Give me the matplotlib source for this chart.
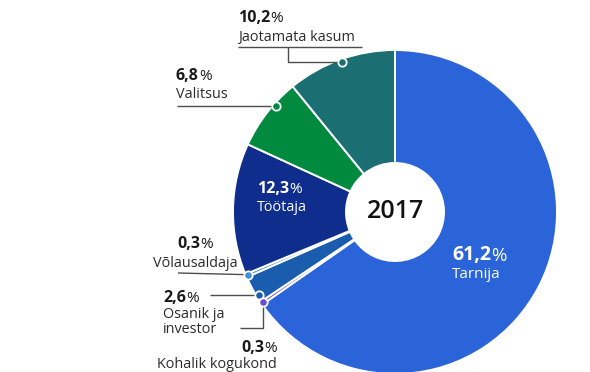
import matplotlib
matplotlib.use("Agg")
import matplotlib.pyplot as plt
import numpy as np

plt.rcParams['font.family'] = ['Open Sans', 'DejaVu Sans']

# Andmed (päripäeva alates kella 12-st)
nimed = ["Tarnija", "Kohalik kogukond", "Osanik ja\ninvestor", "Võlausaldaja",
         "Töötaja", "Valitsus", "Jaotamata kasum"]
osakaal = [61.2, 0.3, 2.6, 0.3, 12.3, 6.8, 10.2]
varvid = ["#2b63d9", "#6b48e0", "#1a5cad", "#3e8fd1", "#0f2d8c", "#008a3f", "#1b6e72"]
aasta = "2017"

W, H = 590, 372
CX, CY = 395, H - 212
R, R_AUK = 162, 49


def px(y):
    # pildi y (ülalt) -> telje y (alt)
    return H - y


# Punkt sektori välisserval; kui antud y jääb sektorisse, siis sellel kõrgusel
def aare_punkt(w, y_ylalt=None, r=R - 2.5):
    t1, t2 = w.theta1, w.theta2
    nurk = (t1 + t2) / 2
    if y_ylalt is not None:
        s = (px(y_ylalt) - CY) / r
        if abs(s) <= 1:
            phi = 180 - np.degrees(np.arcsin(s))
            phi = t1 + (phi - t1) % 360
            if phi <= t2:
                nurk = phi
    a = np.radians(nurk)
    return CX + r * np.cos(a), CY + r * np.sin(a)


fig = plt.figure(figsize=(W / 100, H / 100), dpi=100)
ax = fig.add_axes([0, 0, 1, 1])

wedges, _ = ax.pie(osakaal, colors=varvid, startangle=90, counterclock=False,
                   radius=R, center=(CX, CY),
                   wedgeprops=dict(width=R - R_AUK, edgecolor='white', linewidth=1.4))
ax.set_xlim(0, W)
ax.set_ylim(0, H)
ax.set_aspect('equal')
ax.axis('off')

renderer = fig.canvas.get_renderer()
joon = dict(color='#4d4d4d', lw=1.0, zorder=3, solid_capstyle='butt')


def taap(x, y, c):
    ax.plot([x], [y], 'o', ms=6, mfc=c, mec='white', mew=1.3, zorder=4)


# Paks arv + tavaline protsendimärk
def protsent(x, y, v, suurus=11.5, varv='#1a1a1a', ha='left'):
    arv = f"{v:.1f}".replace(".", ",")
    t = ax.text(x, px(y), arv, fontsize=suurus, fontweight='bold', color=varv, va='baseline')
    p = ax.annotate('%', xy=(1, 0), xycoords=t, fontsize=suurus - 0.5, color=varv,
                    va='bottom', ha='left')
    if ha != 'left':
        laius = t.get_window_extent(renderer).width + p.get_window_extent(renderer).width
        t.set_x(x - (laius / 2 if ha == 'center' else laius))


def nimi(x, y, tekst, suurus=10.4, varv='#2b2b2b', ha='left'):
    for i, rida in enumerate(tekst.split("\n")):
        ax.text(x, px(y + i * 15), rida, fontsize=suurus, color=varv, va='baseline', ha=ha)


# Jaotamata kasum
x, y = aare_punkt(wedges[6])
ax.plot([238, 362], [px(47), px(47)], **joon)
ax.plot([288, 288, x], [px(47), y, y], **joon)
taap(x, y, varvid[6])
protsent(238, 22, osakaal[6])
nimi(238, 41, nimed[6])

# Valitsus
x, y = aare_punkt(wedges[5], 106)
ax.plot([177, x], [px(106), y], **joon)
taap(x, y, varvid[5])
protsent(176, 80, osakaal[5])
nimi(176, 98, nimed[5])

# Võlausaldaja
x, y = aare_punkt(wedges[3], 273)
ax.plot([178, x], [px(273), y], **joon)
taap(x, y, varvid[3])
protsent(195, 248, osakaal[3], ha='center')
nimi(195, 267, nimed[3], ha='center')

# Osanik ja investor
x, y = aare_punkt(wedges[2], 295)
ax.plot([210, x], [px(295), y], **joon)
taap(x, y, varvid[2])
protsent(163, 302, osakaal[2])
nimi(163, 318, nimed[2])

# Kohalik kogukond
x, y = aare_punkt(wedges[1])
ax.plot([x, x, 240], [y, px(328), px(328)], **joon)
taap(x, y, varvid[1])
protsent(277, 352, osakaal[1], ha='right')
nimi(277, 368, nimed[1], ha='right')

# Sildid sektorite sees
protsent(257, 193, osakaal[4], varv='white')
nimi(257, 211, nimed[4], varv='white')
protsent(452, 260, osakaal[0], suurus=14, varv='white')
nimi(452, 278, nimed[0], suurus=11, varv='white')

# Aasta keskel
ax.text(CX, px(211), aasta, fontsize=18, fontweight='semibold', color='#111111',
        ha='center', va='center')

fig.savefig("out.png", dpi=100)
